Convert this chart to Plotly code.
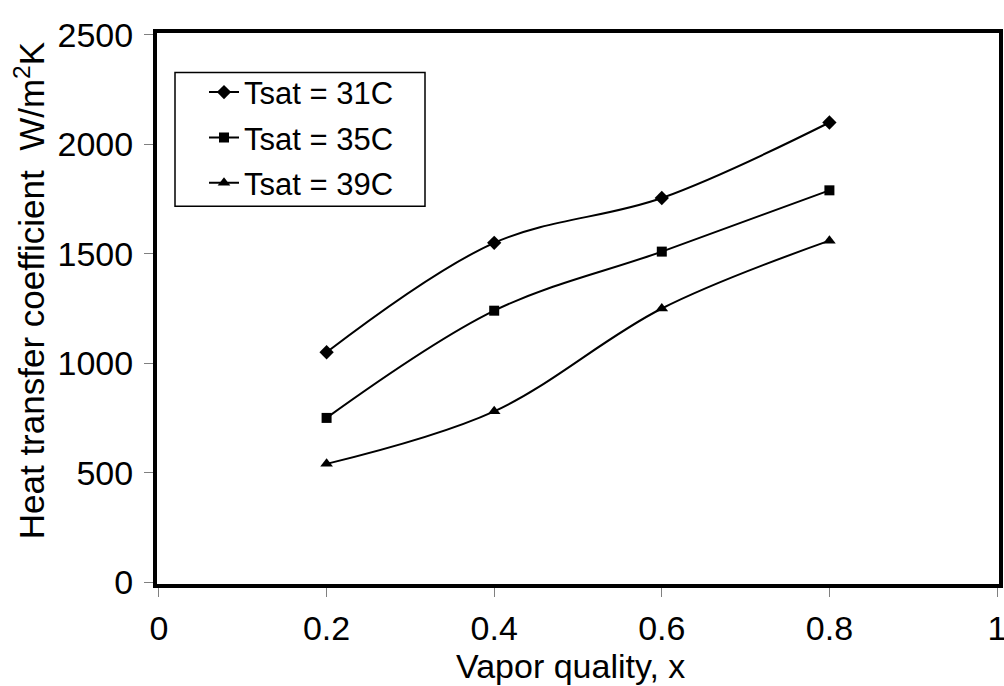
import plotly.graph_objects as go

x_quality = [0.2, 0.4, 0.6, 0.8]
h_31 = [1050, 1550, 1755, 2100]
h_35 = [750, 1240, 1510, 1790]
h_39 = [540, 780, 1250, 1560]
series_names = ["Tsat = 31C", "Tsat = 35C", "Tsat = 39C"]
x_ticks = [0, 0.2, 0.4, 0.6, 0.8, 1]
x_ticktext = ["0", "0.2", "0.4", "0.6", "0.8", "1"]
y_ticks = [0, 500, 1000, 1500, 2000, 2500]

FONT = "Liberation Sans, Arial, sans-serif"
TFS = 34   # tick labels
XFS = 34   # x title
YFS = 35   # y title
LFS = 31   # legend

L, R, T, B = 157, 5, 32.5, 102
W, H = 1004, 686
pw = W - L - R
ph = H - T - B


def px_x(p):
    return (p - L) / pw


def px_y(p):
    return (H - B - p) / ph


fig = go.Figure()
markers = [("diamond", 11), ("square", 10), ("triangle-up", 11)]
for i, (vals, name) in enumerate(zip([h_31, h_35, h_39], series_names)):
    sym, sz = markers[i]
    fig.add_trace(go.Scatter(
        x=x_quality, y=vals, name=name, mode="lines+markers",
        line=dict(color="black", width=2, shape="spline", smoothing=1.0),
        marker=dict(symbol=sym, size=sz, color="black"),
        legendgroup=f"g{i}", cliponaxis=False,
    ))

fig.update_layout(
    width=W, height=H,
    margin=dict(l=L, r=R, t=T, b=B, autoexpand=False),
    paper_bgcolor="white", plot_bgcolor="white",
    font=dict(family=FONT, size=TFS, color="black"),
    showlegend=True,
    legend=dict(
        x=px_x(204), y=px_y(65), xanchor="left", yanchor="top",
        borderwidth=0, bgcolor="rgba(0,0,0,0)",
        font=dict(family=FONT, size=LFS, color="black"),
        tracegroupgap=2, itemwidth=30,
    ),
    shapes=[
        dict(type="rect", xref="paper", yref="paper",
             x0=px_x(175), x1=px_x(425), y0=px_y(206), y1=px_y(72),
             line=dict(color="black", width=1.5), fillcolor="rgba(0,0,0,0)", layer="above"),
    ],
    annotations=[
        dict(text="Vapor quality, x", xref="paper", yref="paper",
             x=px_x(570), y=px_y(666), xanchor="center", yanchor="middle",
             showarrow=False, font=dict(family=FONT, size=XFS, color="black")),
        dict(text="Heat transfer coefficient\u00a0\u00a0W/m<sup>2</sup>K", xref="paper", yref="paper",
             x=px_x(30), y=px_y(291), xanchor="center", yanchor="middle",
             textangle=-90, showarrow=False, font=dict(family=FONT, size=YFS, color="black")),
    ],
)
fig.update_xaxes(
    range=[-2 / 846, 1 + 2 / 846], tickvals=x_ticks, ticktext=x_ticktext,
    showgrid=False, zeroline=False, automargin=False, ticklabeloverflow="allow",
    showline=True, linecolor="black", linewidth=4, mirror=True,
    ticks="outside", ticklen=9, tickcolor="#808080", tickwidth=1,
    tickfont=dict(family=FONT, size=TFS), ticklabelstandoff=2,
)
fig.update_yaxes(
    range=[-9, 2509], tickvals=y_ticks, ticksuffix="\u00a0",
    showgrid=False, zeroline=False, automargin=False, ticklabeloverflow="allow",
    showline=True, linecolor="black", linewidth=4, mirror=True,
    ticks="outside", ticklen=9, tickcolor="#808080", tickwidth=1,
    tickfont=dict(family=FONT, size=TFS), ticklabelstandoff=4,
)

fig.write_html(
    "out.html",
    config={"displayModeBar": False},
    post_script="document.body.style.margin='0';document.body.style.overflow='hidden';",
)
